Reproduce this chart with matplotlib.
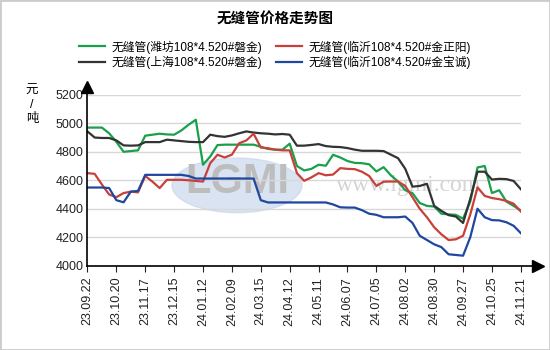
import matplotlib.pyplot as plt
from matplotlib.patches import Ellipse, Rectangle

plt.rcParams['font.family'] = ['Liberation Sans', 'Noto Sans CJK SC', 'DejaVu Sans']

# weekly points, 4 per tick interval
tick_labels = ['23.09.22', '23.10.20', '23.11.17', '23.12.15', '24.01.12', '24.02.09',
               '24.03.15', '24.04.12', '24.05.11', '24.06.07', '24.07.05', '24.08.02',
               '24.08.30', '24.09.27', '24.10.25', '24.11.21']

weifang = [4970, 4970, 4970, 4930, 4870, 4800, 4805, 4810, 4913, 4920, 4927, 4922, 4920, 4950, 4990, 5025,
           4709, 4767, 4847, 4850, 4850, 4850, 4850, 4850, 4835, 4820, 4815, 4815, 4857, 4700, 4669, 4680,
           4709, 4702, 4779, 4760, 4735, 4722, 4720, 4712, 4662, 4692, 4635, 4591, 4530, 4509, 4440, 4420,
           4415, 4365, 4360, 4357, 4330, 4450, 4690, 4700, 4510, 4530, 4450, 4420, 4387]

shanghai = [4943, 4900, 4897, 4897, 4880, 4845, 4843, 4845, 4868, 4868, 4868, 4885, 4880, 4875, 4870, 4868,
            4868, 4920, 4910, 4905, 4915, 4930, 4943, 4935, 4930, 4927, 4922, 4925, 4920, 4843, 4843, 4848,
            4854, 4840, 4835, 4833, 4826, 4815, 4807, 4807, 4807, 4805, 4780, 4755, 4680, 4555, 4560, 4575,
            4420, 4385, 4355, 4345, 4300, 4470, 4660, 4660, 4605, 4610, 4608, 4595, 4537]

zhengyang = [4650, 4645, 4570, 4500, 4481, 4510, 4520, 4515, 4630, 4590, 4545, 4603, 4603, 4603, 4600, 4595,
             4591, 4720, 4779, 4760, 4780, 4860, 4880, 4927, 4830, 4825, 4815, 4810, 4810, 4650, 4596, 4620,
             4650, 4635, 4640, 4685, 4680, 4678, 4660, 4630, 4560, 4590, 4591, 4591, 4560, 4480, 4400, 4340,
             4270, 4220, 4180, 4185, 4210, 4360, 4550, 4490, 4475, 4467, 4455, 4435, 4380]

baocheng = [4549, 4549, 4549, 4545, 4460, 4445, 4520, 4525, 4638, 4638, 4638, 4638, 4638, 4638, 4630, 4612,
            4612, 4612, 4612, 4612, 4612, 4612, 4612, 4612, 4460, 4444, 4444, 4444, 4444, 4444, 4444, 4444,
            4444, 4444, 4430, 4410, 4408, 4408, 4390, 4365, 4357, 4340, 4340, 4340, 4345, 4300, 4210, 4180,
            4150, 4130, 4080, 4075, 4070, 4200, 4400, 4340, 4320, 4318, 4305, 4280, 4228]

names = ['无缝管(潍坊108*4.520#磐金)', '无缝管(上海108*4.520#磐金)',
         '无缝管(临沂108*4.520#金正阳)', '无缝管(临沂108*4.520#金宝诚)']

fig = plt.figure(figsize=(5.5, 3.5), dpi=100)
ax = fig.add_axes([0.159, 0.241, 0.788, 0.488])

# watermark
ax.add_patch(Ellipse((0.345, 0.47), 0.30, 0.32, transform=ax.transAxes, color='#c9d8ec', alpha=0.7, zorder=0))
ax.text(0.345, 0.49, 'LGMI', transform=ax.transAxes, fontsize=30, fontweight='bold', color='#bdbdbd',
        ha='center', va='center', zorder=0)
ax.text(0.74, 0.47, 'www.lgmi.com', transform=ax.transAxes, fontsize=17, family='Liberation Serif',
        color='#d4d4d4', ha='center', va='center', zorder=0)

x = list(range(len(weifang)))
ax.plot(x, weifang, color='#1aa04a', lw=1.6, label=names[0])
ax.plot(x, shanghai, color='#333333', lw=1.6, label=names[1])
ax.plot(x, zhengyang, color='#c8403a', lw=1.6, label=names[2])
ax.plot(x, baocheng, color='#1f47a0', lw=1.6, label=names[3])

ax.set_xlim(0, 60)
ax.set_ylim(4000, 5200)
ax.set_yticks(range(4000, 5201, 200))
ax.set_xticks(range(0, 61, 4))
ax.set_xticklabels(tick_labels, rotation=90)
ax.tick_params(axis='y', length=0, pad=3, labelsize=9, colors='#222222')
ax.tick_params(axis='x', length=4, width=0.8, pad=4, labelsize=9, colors='#222222')
ax.grid(axis='y', color='#d8d8d8', lw=1)
ax.set_axisbelow(True)
for s in ax.spines.values():
    s.set_visible(False)

# axes with arrows
ax.plot([0, 1.035], [0, 0], color='black', lw=1.2, transform=ax.transAxes, clip_on=False)
ax.plot([0, 0], [0, 1.04], color='black', lw=1.2, transform=ax.transAxes, clip_on=False)
ax.plot(1.04, 0, marker='>', ms=8, color='black', transform=ax.transAxes, clip_on=False)
ax.plot(0, 1.045, marker='^', ms=8, color='black', transform=ax.transAxes, clip_on=False)

fig.text(0.058, 0.7, '元\n/\n吨', fontsize=9, ha='center', va='center', linespacing=1.2)

fig.text(0.5, 0.945, '无缝管价格走势图', fontsize=10.5, fontweight='bold', ha='center', va='center')

fig.legend(loc='upper center', bbox_to_anchor=(0.5, 0.915), ncol=2, frameon=False, fontsize=8.5,
           handlelength=2.2, columnspacing=1.2, labelspacing=0.2, handletextpad=0.5)

fig.add_artist(Rectangle((0, 0), 1, 1, transform=fig.transFigure, fill=False, edgecolor='#cccccc', lw=2))

fig.savefig('out.png', dpi=100)
